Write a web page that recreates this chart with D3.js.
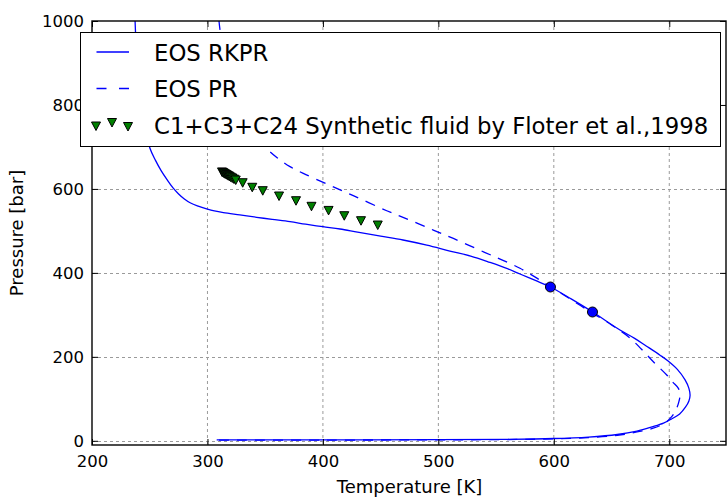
<!DOCTYPE html>
<html><head><meta charset="utf-8">
<script src="https://cdn.jsdelivr.net/npm/d3@7"></script>
<style>body{margin:0;background:#fff} svg{display:block} text{font-family:"DejaVu Sans",sans-serif;fill:#000}</style>
</head><body><svg id="c" width="727" height="499"></svg>
<script>
// ---- data ----
const rkprT = [308, 400, 500, 560, 600, 630, 655, 672, 685, 695, 702, 709, 714, 717, 718, 717, 713.7, 707, 699, 692, 680, 670, 657.3, 645, 633.5, 615, 597.1, 584, 570.7, 558, 544.7, 528, 510, 490, 469.4, 450, 430, 414.8, 400, 385, 371.5, 356, 342.6, 328, 313.8, 306, 299.3, 292, 285, 280, 275, 270, 265, 260, 255, 250.2, 245, 241, 238.5, 237.3, 237];
const rkprP = [2, 2.2, 2.8, 3.6, 5.5, 9, 15, 23, 33, 42, 52, 64, 80, 95, 108, 125, 145, 170, 190, 204, 226, 244, 264, 286, 307, 338, 366.4, 382, 397.3, 412, 425, 440, 452, 466, 478.3, 487.5, 497, 504.5, 510, 516, 522, 527.5, 532.4, 538, 543.4, 547.5, 552.5, 559, 567, 576, 588, 603, 622, 643, 668, 697, 760, 840, 930, 1000, 1040];
const prT = [310, 400, 500, 560, 600, 630, 655, 672, 686, 696, 702.1, 706.4, 708.5, 709.3, 707.9, 703, 697.8, 686.2, 676, 664.6, 650, 630, 610, 597, 585, 570.7, 555, 540, 513, 495.6, 475, 455.3, 426.3, 403.3, 383, 371.5, 361, 351.3, 340, 328, 318, 312, 310, 309.5];
const prP = [1.5, 1.7, 2.3, 3, 4.5, 7.5, 13, 21, 30, 42, 57.4, 77.4, 95, 110, 125, 140, 156.8, 188.4, 218, 248, 276, 310, 345, 367, 388, 411, 431, 449, 482, 502, 526, 548, 584, 612, 637, 653, 673, 696.8, 740, 800, 880, 960, 1000, 1040];
const expT = [312.6, 313.5, 314.3, 315.2, 316.2, 317.1, 318, 319, 320.2, 321.5, 323, 324.5, 330.5, 338.8, 347.9, 362, 376.7, 390.1, 404.9, 418.5, 433, 447.5];
const expP = [640.5, 639, 637.5, 636, 634.5, 633, 631.5, 630, 628, 626, 623.5, 621.2, 614.8, 603.9, 595.8, 583.1, 571.9, 558.6, 548.8, 536.2, 524.3, 514];
const critT = [597.1, 633.5];
const critP = [366.4, 306.8];
const xTicks = [200, 300, 400, 500, 600, 700];
const yTicks = [0, 200, 400, 600, 800, 1000];
const legendLabels = ["EOS RKPR", "EOS PR", "C1+C3+C24 Synthetic fluid by Floter et al.,1998"];
const xLabel = "Temperature [K]";
const yLabel = "Pressure [bar]";

// ---- drawing ----
const W = 727, H = 499;
const m = {l: 92, r: 727, t: 21, b: 445};
const x = d3.scaleLinear().domain([200, 750]).range([m.l, m.r]);
const y = d3.scaleLinear().domain([-10, 1000]).range([m.b, m.t]);
const svg = d3.select("#c");
svg.append("rect").attr("width", W).attr("height", H).attr("fill", "#fff");
svg.append("clipPath").attr("id", "clip").append("rect")
  .attr("x", m.l).attr("y", m.t).attr("width", m.r - m.l).attr("height", m.b - m.t);

const blue = "#0000ff";
const gridStyle = g => g.attr("stroke", "#9a9a9a").attr("stroke-width", 1).attr("stroke-dasharray", "3,3");
// grid
const grid = svg.append("g").call(gridStyle);
grid.selectAll("line.gx").data(xTicks.filter(d => d > 200)).join("line")
  .attr("x1", d => x(d)).attr("x2", d => x(d)).attr("y1", m.t).attr("y2", m.b);
grid.selectAll("line.gy").data(yTicks.filter(d => d < 1000)).join("line")
  .attr("x1", m.l).attr("x2", m.r).attr("y1", d => Math.round(y(d)) + 0.5).attr("y2", d => Math.round(y(d)) + 0.5);

// curves
const plot = svg.append("g").attr("clip-path", "url(#clip)");
const line = d3.line().x(d => x(d[0])).y(d => y(d[1])).curve(d3.curveCatmullRom.alpha(0.5));
plot.append("path").datum(rkprT.map((t, i) => [t, rkprP[i]]))
  .attr("d", line).attr("fill", "none").attr("stroke", blue).attr("stroke-width", 1.3);
plot.append("path").datum(prT.map((t, i) => [t, prP[i]]))
  .attr("d", line).attr("fill", "none").attr("stroke", blue).attr("stroke-width", 1.3)
  .attr("stroke-dasharray", "10,8");
const tri = "M-4.5,-4L4.5,-4L0,4.5Z";
plot.selectAll("path.exp").data(expT.map((t, i) => [t, expP[i]])).join("path")
  .attr("class", "exp").attr("d", tri)
  .attr("transform", d => `translate(${x(d[0])},${y(d[1])})`)
  .attr("fill", "#008000").attr("stroke", "#000").attr("stroke-width", 1);
plot.selectAll("circle.crit").data(critT.map((t, i) => [t, critP[i]])).join("circle")
  .attr("class", "crit").attr("cx", d => x(d[0])).attr("cy", d => y(d[1])).attr("r", 5)
  .attr("fill", blue).attr("stroke", "#000").attr("stroke-width", 1);

// axes
const fs = 16.5;
const styleAxis = g => { g.select(".domain").remove(); g.selectAll("line").attr("stroke", "#000").attr("stroke-width", 1); g.attr("font-family", "DejaVu Sans").attr("font-size", fs); g.selectAll("text").attr("fill", "#000"); };
svg.append("g").attr("transform", `translate(0,${m.b})`)
  .call(d3.axisBottom(x).tickValues(xTicks).tickSize(-6).tickPadding(10).tickFormat(d3.format("d"))).call(styleAxis);
svg.append("g").attr("transform", `translate(0,${m.t})`)
  .call(d3.axisTop(x).tickValues(xTicks).tickSize(-6).tickFormat("")).call(styleAxis);
svg.append("g").attr("transform", `translate(${m.l},0)`)
  .call(d3.axisLeft(y).tickValues(yTicks).tickSize(-6).tickPadding(8).tickFormat(d3.format("d"))).call(styleAxis);
svg.append("g").attr("transform", `translate(${m.r - 1},0)`)
  .call(d3.axisRight(y).tickValues(yTicks).tickSize(-6).tickFormat("")).call(styleAxis);
// spines
svg.append("rect").attr("x", m.l).attr("y", m.t).attr("width", m.r - m.l - 1).attr("height", m.b - m.t)
  .attr("fill", "none").attr("stroke", "#000").attr("stroke-width", 1.4);

// axis labels
svg.append("text").attr("x", (m.l + m.r) / 2).attr("y", 493).attr("text-anchor", "middle")
  .attr("font-size", 18).text(xLabel);
svg.append("text").attr("transform", `translate(23,${(m.t + m.b) / 2}) rotate(-90)`).attr("text-anchor", "middle")
  .attr("font-size", 18).text(yLabel);

// legend
const lg = svg.append("g");
lg.append("rect").attr("x", 80.5).attr("y", 32.5).attr("width", 640).attr("height", 114)
  .attr("fill", "#fff").attr("stroke", "#000").attr("stroke-width", 1);
const rowY = [52, 88.5, 125];
lg.append("line").attr("x1", 96.5).attr("x2", 129).attr("y1", rowY[0]).attr("y2", rowY[0])
  .attr("stroke", blue).attr("stroke-width", 1.3);
lg.append("line").attr("x1", 96.5).attr("x2", 129).attr("y1", rowY[1]).attr("y2", rowY[1])
  .attr("stroke", blue).attr("stroke-width", 1.3).attr("stroke-dasharray", "10,12.5");
const legTri = [[96, 1], [112, -2.5], [128, 1.5]];
lg.selectAll("path.lt").data(legTri).join("path").attr("class", "lt").attr("d", tri)
  .attr("transform", d => `translate(${d[0]},${rowY[2] + d[1]})`)
  .attr("fill", "#008000").attr("stroke", "#000").attr("stroke-width", 1);
lg.selectAll("text").data(legendLabels).join("text")
  .attr("x", 154).attr("y", (d, i) => rowY[i] + 8.5).attr("font-size", 22.8).text(d => d);
</script></body></html>
